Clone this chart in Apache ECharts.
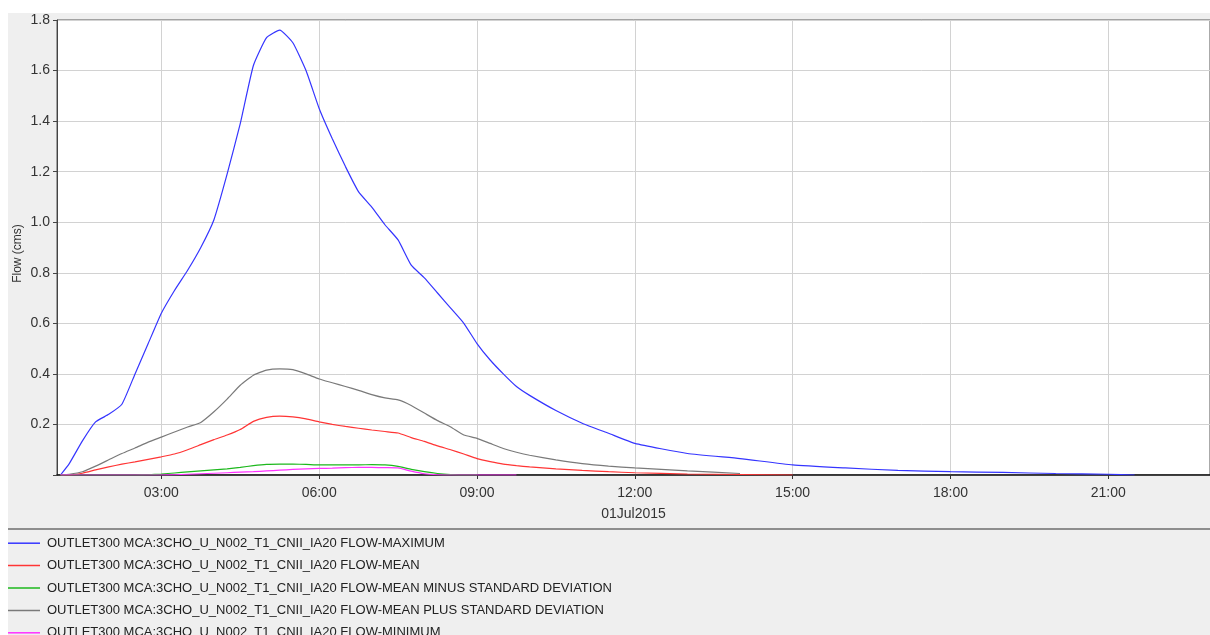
<!DOCTYPE html>
<html>
<head>
<meta charset="utf-8">
<title>OUTLET300 flow</title>
<script src="https://cdn.jsdelivr.net/npm/echarts@6/dist/echarts.min.js"></script>
<style>
  html, body { margin: 0; padding: 0; background: #fff; }
  #chart { width: 1210px; height: 635px; }
</style>
</head>
<body>
<div id="chart"></div>
<script>
// time stamps on 01Jul2015 (HH:MM)
var times = [
  '01:05', '01:15', '01:30', '01:45', '02:00', '02:15', '02:30', '02:45',
  '03:00', '03:15', '03:30', '03:45', '04:00', '04:15', '04:30', '04:45',
  '05:00', '05:15', '05:30', '05:45', '06:00', '06:15', '06:30', '06:45',
  '07:00', '07:15', '07:30', '07:45', '08:00', '08:15', '08:30', '08:45',
  '09:00', '09:15', '09:30', '09:45', '10:00', '10:30', '11:00', '11:30',
  '12:00', '13:00', '14:00', '15:00', '16:00', '17:00', '18:00', '19:00',
  '20:00', '21:00', '21:30'
]

// tick labels of the time axis
var timeTicks = ['03:00', '06:00', '09:00', '12:00', '15:00', '18:00', '21:00']

// flow values (cms), one per time stamp, null = no line
var flowMax = [
  0, 0.045, 0.135, 0.21, 0.24, 0.28, 0.40, 0.52,
  0.64, 0.73, 0.81, 0.90, 1.01, 1.19, 1.39, 1.62,
  1.73, 1.76, 1.71, 1.60, 1.45, 1.33, 1.22, 1.12,
  1.06, 0.99, 0.93, 0.83, 0.78, 0.72, 0.66, 0.60,
  0.52, 0.455, 0.40, 0.35, 0.315, 0.255, 0.205, 0.165,
  0.125, 0.085, 0.065, 0.04, 0.028, 0.018, 0.013, 0.01,
  0.006, 0.003, 0
]
var flowMean = [
  0, 0, 0.007, 0.02, 0.032, 0.043, 0.052, 0.062,
  0.072, 0.083, 0.10, 0.12, 0.14, 0.158, 0.18, 0.212,
  0.228, 0.233, 0.23, 0.222, 0.21, 0.20, 0.192, 0.185,
  0.178, 0.172, 0.166, 0.148, 0.133, 0.115, 0.10, 0.083,
  0.065, 0.053, 0.043, 0.037, 0.032, 0.024, 0.018, 0.013,
  0.009, 0.004, 0.002, 0, null, null, null, null,
  null, null, null
]
var flowMinusSd = [
  0, 0, 0, 0, 0, 0, 0, 0.001,
  0.004, 0.008, 0.012, 0.016, 0.02, 0.024, 0.03, 0.037,
  0.042, 0.043, 0.043, 0.042, 0.04, 0.04, 0.04, 0.04,
  0.041, 0.04, 0.034, 0.022, 0.013, 0.006, 0.002, 0,
  0, null, null, null, null, null, null, null,
  null, null, null, null, null, null, null, null,
  null, null, null
]
var flowPlusSd = [
  0, 0.003, 0.013, 0.035, 0.06, 0.085, 0.107, 0.13,
  0.15, 0.17, 0.19, 0.208, 0.25, 0.30, 0.355, 0.395,
  0.415, 0.42, 0.417, 0.40, 0.38, 0.365, 0.35, 0.335,
  0.318, 0.305, 0.297, 0.275, 0.245, 0.215, 0.19, 0.158,
  0.145, 0.125, 0.105, 0.09, 0.078, 0.06, 0.045, 0.035,
  0.028, 0.016, 0.006, null, null, null, null, null,
  null, null, null
]
var flowMin = [
  0, 0, 0, 0, 0, 0, 0, 0,
  0, 0.001, 0.003, 0.005, 0.007, 0.009, 0.011, 0.013,
  0.016, 0.019, 0.022, 0.024, 0.026, 0.027, 0.029, 0.03,
  0.03, 0.029, 0.028, 0.015, 0.005, 0.001, 0, 0,
  0, 0, 0, 0, null, null, null, null,
  null, null, null, null, null, null, null, null,
  null, null, null
]

var seriesNames = [
  'OUTLET300 MCA:3CHO_U_N002_T1_CNII_IA20 FLOW-MAXIMUM',
  'OUTLET300 MCA:3CHO_U_N002_T1_CNII_IA20 FLOW-MEAN',
  'OUTLET300 MCA:3CHO_U_N002_T1_CNII_IA20 FLOW-MEAN MINUS STANDARD DEVIATION',
  'OUTLET300 MCA:3CHO_U_N002_T1_CNII_IA20 FLOW-MEAN PLUS STANDARD DEVIATION',
  'OUTLET300 MCA:3CHO_U_N002_T1_CNII_IA20 FLOW-MINIMUM'
]
var seriesValues = [flowMax, flowMean, flowMinusSd, flowPlusSd, flowMin]
var seriesColors = ['#3535ff', '#ff3535', '#1db81d', '#7a7a7a', '#ff30ff']

var FONT = '"Liberation Sans", Arial, sans-serif'

// 'HH:MM' -> hours since midnight
function toHours(hhmm) {
  var p = hhmm.split(':')
  return +p[0] + p[1] / 60
}

function hoursLabel(h) {
  var hh = Math.floor(h + 1e-6)
  var mm = Math.round((h - hh) * 60)
  return (hh < 10 ? '0' : '') + hh + ':' + (mm < 10 ? '0' : '') + mm
}

function toPairs(values) {
  return times.map(function(t, i) {
    return [toHours(t), values[i]]
  })
}

var tickHours = timeTicks.map(toHours)

var series = seriesValues.map(function(vals, i) {
  return {
    name: seriesNames[i],
    type: 'line',
    data: toPairs(vals),
    symbol: 'none',
    showSymbol: false,
    connectNulls: false,
    smooth: 0.15,
    lineStyle: { width: 1.2, color: seriesColors[i] },
    itemStyle: { color: seriesColors[i] }
  }
})

// one legend per row so the last (cut off) row does not wrap into a new column
var legendCenters = [541.7, 564, 586.5, 609, 631.3]
var legends = seriesNames.map(function(name, i) {
  return {
    data: [name],
    left: 8,
    top: legendCenters[i] - 5,
    padding: 0,
    icon: 'rect',
    itemWidth: 32,
    itemHeight: 1.5,
    selectedMode: false,
    itemStyle: { color: seriesColors[i] },
    textStyle: { fontSize: 13, color: '#222', fontFamily: FONT, padding: [0, 0, 0, 2] }
  }
})

var chart = echarts.init(document.getElementById('chart'))
chart.setOption({
  animation: false,
  backgroundColor: '#ffffff',
  graphic: [
    { // grey panel
      type: 'rect',
      z: -100,
      shape: { x: 8, y: 13, width: 1202, height: 622 },
      style: { fill: '#efefef' }
    },
    { // separator above the legend
      type: 'rect',
      z: -90,
      shape: { x: 8, y: 528, width: 1202, height: 2 },
      style: { fill: '#8e8e8e' }
    }
  ],
  legend: legends,
  grid: {
    left: 57,
    top: 20,
    right: -2,
    bottom: 160,
    show: true,
    backgroundColor: '#ffffff',
    borderColor: '#555',
    borderWidth: 1
  },
  xAxis: {
    type: 'value',
    min: toHours('01:01'),
    max: toHours('22:56'),
    name: '01Jul2015',
    nameLocation: 'middle',
    nameGap: 32,
    nameMoveOverlap: false,
    nameTextStyle: { fontSize: 14, color: '#333', fontFamily: FONT },
    axisLine: { show: true, lineStyle: { color: '#111', width: 1.5 } },
    axisTick: { show: true, length: 4, customValues: tickHours, lineStyle: { color: '#333' } },
    axisLabel: {
      customValues: tickHours,
      formatter: hoursLabel,
      fontSize: 14,
      color: '#333',
      fontFamily: FONT,
      margin: 11
    },
    splitLine: { show: true, lineStyle: { color: '#d2d2d2' } }
  },
  yAxis: {
    type: 'value',
    min: 0,
    max: 1.8,
    interval: 0.2,
    name: 'Flow (cms)',
    nameLocation: 'middle',
    nameGap: 33,
    nameMoveOverlap: false,
    nameTextStyle: { fontSize: 12, color: '#333', fontFamily: FONT, padding: [0, 12, 0, 0] },
    axisLine: { show: true, lineStyle: { color: '#444' } },
    axisTick: { show: true, length: 4, lineStyle: { color: '#444' } },
    axisLabel: {
      fontSize: 14,
      color: '#333',
      fontFamily: FONT,
      margin: 7,
      formatter: function(v) {
        return v === 0 ? '' : v.toFixed(1)
      }
    },
    splitLine: { show: true, lineStyle: { color: '#d2d2d2' } }
  },
  series: series
})
</script>
</body>
</html>
